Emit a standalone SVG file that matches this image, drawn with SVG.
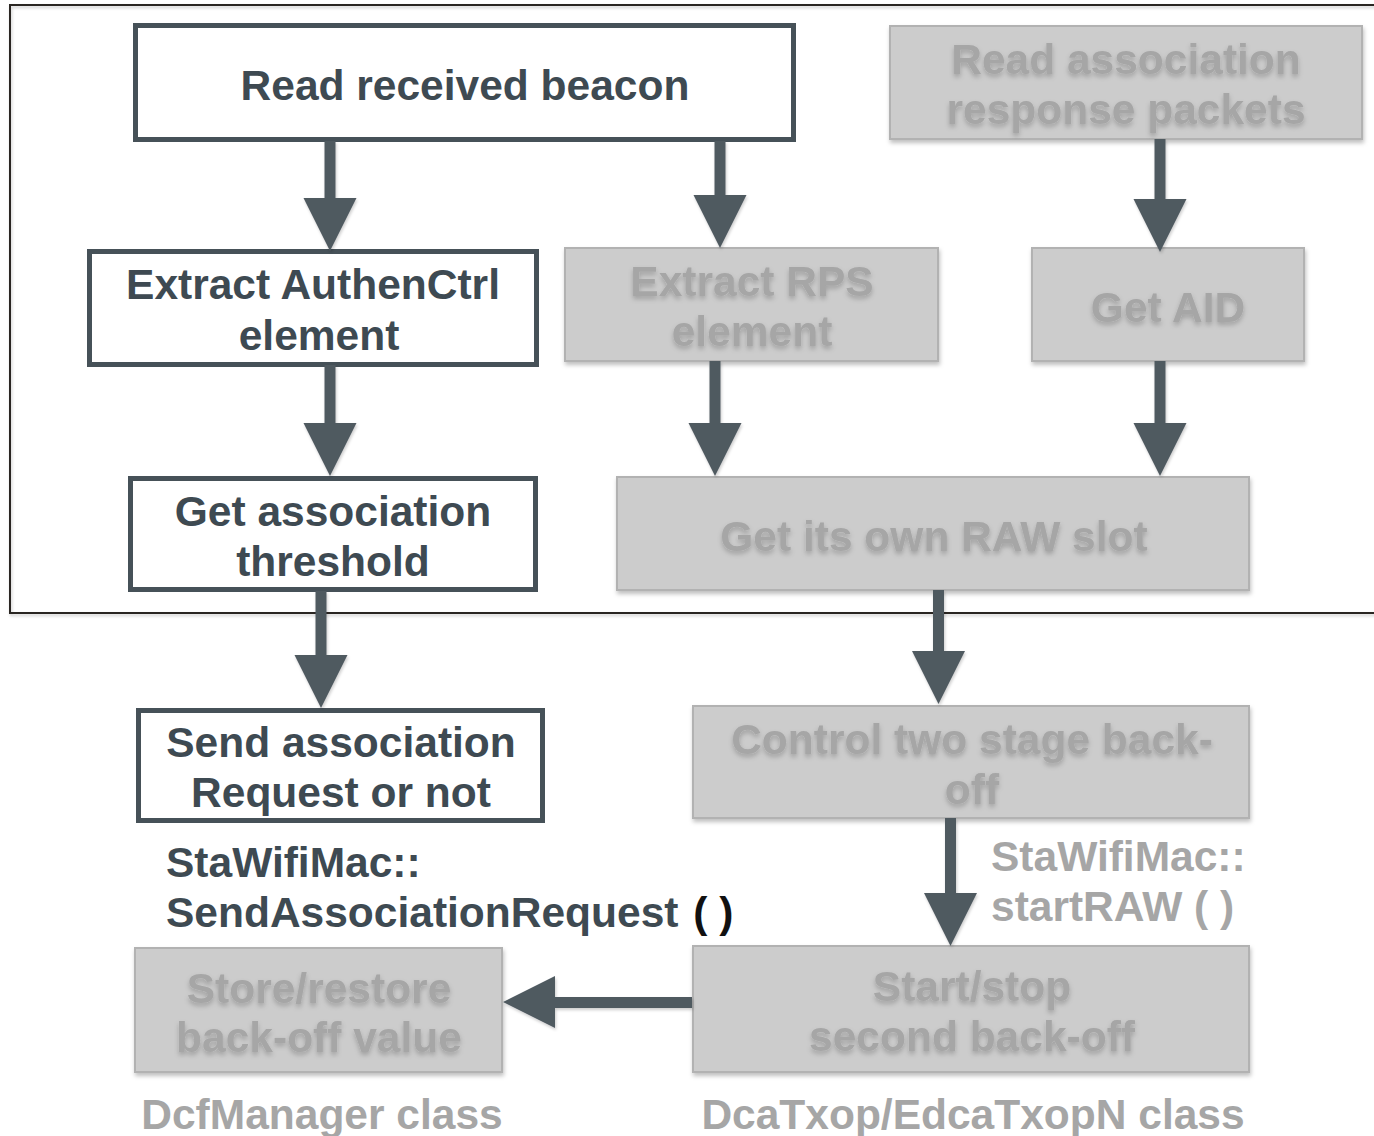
<svg xmlns="http://www.w3.org/2000/svg" width="1374" height="1136" viewBox="0 0 1374 1136">
<defs>
<style>
text{font-family:"Liberation Sans",Arial,Helvetica,sans-serif;font-weight:bold;font-size:42.5px}
.dk{fill:#3e4a52}
.gr{fill:#a6a6a6}
.bk{fill:#111}
.mid{text-anchor:middle}
.wbox{fill:#ffffff;stroke:#465158;stroke-width:5}
.gbox{fill:#cccccc;stroke:#b2b2b2;stroke-width:2}
.arr{fill:#4f5a61}
</style>
<filter id="bsh" x="-10%" y="-10%" width="120%" height="130%">
<feDropShadow dx="1" dy="3" stdDeviation="2" flood-color="#000" flood-opacity="0.25"/>
</filter>
<filter id="tsh" x="-10%" y="-20%" width="120%" height="160%">
<feDropShadow dx="0" dy="3" stdDeviation="2.5" flood-color="#000" flood-opacity="0.22"/>
</filter>
<filter id="ash" x="-20%" y="-20%" width="140%" height="140%">
<feDropShadow dx="1" dy="2" stdDeviation="1.5" flood-color="#000" flood-opacity="0.2"/>
</filter>
</defs>
<rect width="1374" height="1136" fill="#ffffff"/>
<rect id="frame" x="10" y="5" width="1380" height="608" fill="none" stroke="#2b2820" stroke-width="2" filter="url(#ash)"/>

<g id="n1"><rect class="wbox" x="135.5" y="25.5" width="658" height="114"/><text class="dk mid" x="465" y="100">Read received beacon</text></g>
<g id="n2"><rect class="wbox" x="89.5" y="251.5" width="447" height="113"/><text class="dk mid" x="313" y="299">Extract AuthenCtrl</text><text class="dk mid" x="319" y="350">element</text></g>
<g id="n3"><rect class="wbox" x="130.5" y="478.5" width="405" height="111"/><text class="dk mid" x="333" y="526">Get association</text><text class="dk mid" x="333" y="576">threshold</text></g>
<g id="n4"><rect class="wbox" x="138.5" y="710.5" width="404" height="110"/><text class="dk mid" x="341" y="757">Send association</text><text class="dk mid" x="341" y="807">Request or not</text></g>

<g id="n5" filter="url(#bsh)"><rect class="gbox" x="890" y="26" width="472" height="113"/></g>
<g id="n6" filter="url(#bsh)"><rect class="gbox" x="565" y="248" width="373" height="113"/></g>
<g id="n7" filter="url(#bsh)"><rect class="gbox" x="1032" y="248" width="272" height="113"/></g>
<g id="n8" filter="url(#bsh)"><rect class="gbox" x="617" y="477" width="632" height="113"/></g>
<g id="n9" filter="url(#bsh)"><rect class="gbox" x="693" y="706" width="556" height="112"/></g>
<g id="n10" filter="url(#bsh)"><rect class="gbox" x="693" y="946" width="556" height="126"/></g>
<g id="n11" filter="url(#bsh)"><rect class="gbox" x="135" y="948" width="367" height="124"/></g>

<g id="gtext" filter="url(#tsh)">
<text class="gr mid" x="1126" y="74">Read association</text>
<text class="gr mid" x="1126" y="124">response packets</text>
<text class="gr mid" x="752" y="296">Extract RPS</text>
<text class="gr mid" x="752" y="346">element</text>
<text class="gr mid" x="1168" y="322">Get AID</text>
<text class="gr mid" x="934" y="551">Get its own RAW slot</text>
<text class="gr mid" x="972" y="754">Control two stage back-</text>
<text class="gr mid" x="972" y="804">off</text>
<text class="gr mid" x="972" y="1001">Start/stop</text>
<text class="gr mid" x="972" y="1051">second back-off</text>
<text class="gr mid" x="319" y="1003">Store/restore</text>
<text class="gr mid" x="319" y="1052">back-off value</text>
</g>

<g id="connectors" class="arr" filter="url(#ash)">
<polygon points="324.5,141 335.5,141 335.5,198 356.5,198 330,251 303.5,198 324.5,198"/>
<polygon points="714.5,141 725.5,141 725.5,195 746.5,195 720,248 693.5,195 714.5,195"/>
<polygon points="1154.5,139 1165.5,139 1165.5,199 1186.5,199 1160,252 1133.5,199 1154.5,199"/>
<polygon points="324.5,365 335.5,365 335.5,423 356.5,423 330,476 303.5,423 324.5,423"/>
<polygon points="709.5,361 720.5,361 720.5,423 741.5,423 715,476 688.5,423 709.5,423"/>
<polygon points="1154.5,361 1165.5,361 1165.5,423 1186.5,423 1160,476 1133.5,423 1154.5,423"/>
<polygon points="315.5,591 326.5,591 326.5,655 347.5,655 321,708 294.5,655 315.5,655"/>
<polygon points="933,590 944,590 944,651 965,651 938.5,704 912,651 933,651"/>
<polygon points="945,818 956,818 956,893 977,893 950.5,946 924,893 945,893"/>
<polygon points="692,997 692,1008 555,1008 555,1028 503,1002 555,976 555,997"/>
</g>

<g id="labels">
<text class="dk" x="166" y="877">StaWifiMac::</text>
<text class="dk" x="166" y="927">SendAssociationRequest <tspan class="bk" dx="3">( )</tspan></text>
<text class="gr" x="991" y="871">StaWifiMac::</text>
<text class="gr" x="991" y="921">startRAW ( )</text>
<text class="gr mid" x="322" y="1129">DcfManager class</text>
<text class="gr mid" x="973" y="1129">DcaTxop/EdcaTxopN class</text>
</g>
</svg>
